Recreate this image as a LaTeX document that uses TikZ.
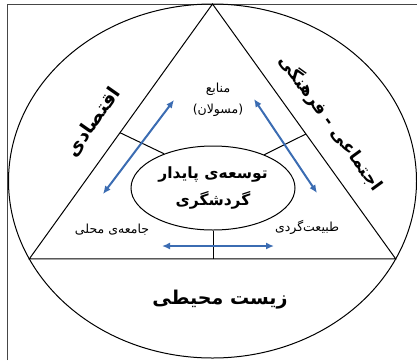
\documentclass[tikz,border=0pt]{standalone}
\usepackage{fontspec}
\usetikzlibrary{shapes.geometric,arrows.meta,calc}
\TeXXeTstate=1
\newfontfamily\arabicfont[Script=Arabic]{DejaVu Sans}
\definecolor{arrowblue}{RGB}{59,108,178}
\definecolor{framegray}{RGB}{70,70,70}

\begin{document}
\begin{tikzpicture}[x=1pt,y=-1pt,line width=1pt,
  sidelabel/.style={font=\arabicfont\bfseries\fontsize{19}{23}\selectfont},
  smalllabel/.style={font=\arabicfont\fontsize{12.5}{15}\selectfont},
  twoway/.style={arrowblue,line width=2pt,{Latex[length=8pt,width=7pt]}-{Latex[length=8pt,width=7pt]}}]
  \useasboundingbox (0,0) rectangle (417,360);

  % Frame (cut at right and bottom)
  \draw[framegray,line width=1.5pt] (7.5,360) -- (7.5,4.5) -- (417,4.5);

  % Outer circle and triangle
  \coordinate (ctr) at (212.5,181);
  \draw (ctr) ellipse [x radius=204, y radius=177];
  \path (ctr) ++(-90:204 and 177) coordinate (apex);
  \path (ctr) ++(153.9:204 and 177) coordinate (bl);
  \path (ctr) ++(26.1:204 and 177) coordinate (br);
  \draw (apex) -- (bl) -- (br) -- cycle;

  % Core
  \node[draw,ellipse,minimum width=164,minimum height=84,inner sep=0pt,align=center,
    font=\arabicfont\bfseries\fontsize{15.5}{27}\selectfont] (core) at (213,188)
    {\beginR توسعه‌ی پایدار\endR\\\beginR گردشگری\endR};
  \draw (core.145) -- ($(apex)!0.505!(bl)$);
  \draw (core.33) -- ($(apex)!0.51!(br)$);
  \draw (core.south) -- (core.south |- bl);

  % Corner labels
  \node[smalllabel] (res) at (218,89) {\beginR منابع\endR};
  \node[smalllabel] (resb) at (218,110) {\beginR(مسولان)\endR};
  \node[smalllabel] (comm) at (112,230) {\beginR جامعه‌ی محلی\endR};
  \node[smalllabel] (eco) at (307,227) {\beginR طبیعت‌گردی\endR};

  % Two-way arrows
  \coordinate (la) at (103,194); \coordinate (lb) at (174,100);
  \coordinate (ra) at (254,99);  \coordinate (rb) at (317,193);
  \coordinate (ba) at (162,246); \coordinate (bb) at (274,246);
  \draw[twoway] (la) -- (lb);
  \draw[twoway] (ra) -- (rb);
  \draw[twoway] (ba) -- (bb);

  % Dimensions
  \node[sidelabel,rotate=55] (econ) at (93,122) {\beginR اقتصادی\endR};
  \node[sidelabel,rotate=-54,font=\arabicfont\bfseries\fontsize{17.5}{21}\selectfont] (soc) at (331,123) {\beginR اجتماعی - فرهنگی\endR};
  \node[sidelabel] (env) at (220,300) {\beginR زیست محیطی\endR};
\end{tikzpicture}
\end{document}
